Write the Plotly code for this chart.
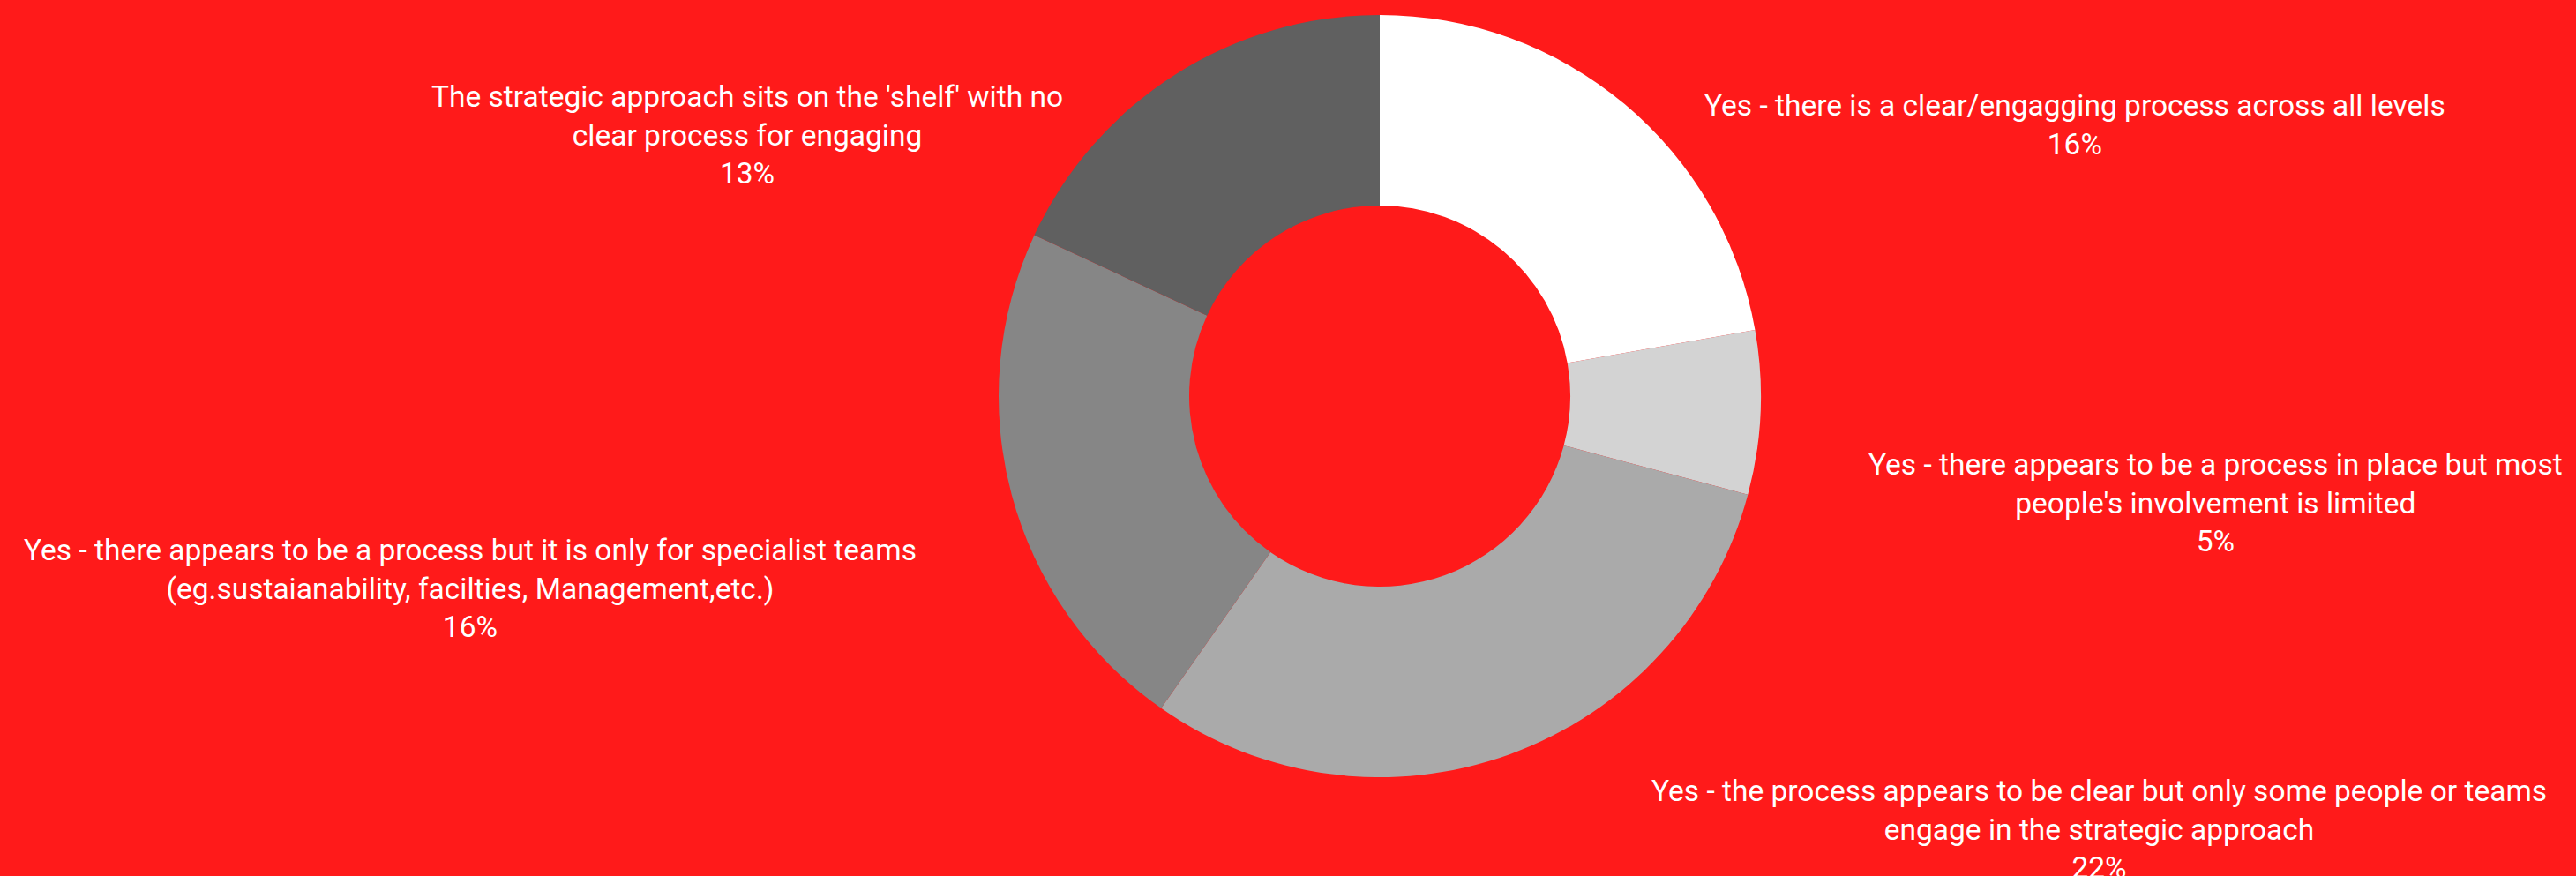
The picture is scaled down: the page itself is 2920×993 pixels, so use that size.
import plotly.graph_objects as go

labels = [
    "Yes - there is a clear/engagging process across all levels",
    "Yes - there appears to be a process in place but most<br>people's involvement is limited",
    "Yes - the process appears to be clear but only some people or teams<br>engage in the strategic approach",
    "Yes - there appears to be a process but it is only for specialist teams<br>(eg.sustaianability, facilties, Management,etc.)",
    "The strategic approach sits on the 'shelf' with no<br>clear process for engaging",
]
values = [16, 5, 22, 16, 13]
pct_text = ["16%", "5%", "22%", "16%", "13%"]
colors = ["#FFFFFF", "#D3D3D3", "#AAAAAA", "#868686", "#606060"]

# label anchor positions (paper fractions)
label_x = [0.8055, 0.860, 0.815, 0.1825, 0.290]
label_y = [0.858, 0.426, 0.053, 0.328, 0.846]

W, H = 2920, 993
fig = go.Figure()
fig.add_trace(go.Pie(
    labels=labels,
    values=values,
    hole=0.5,
    sort=False,
    direction="clockwise",
    rotation=0,
    marker=dict(colors=colors, line=dict(width=0)),
    textinfo="none",
    showlegend=False,
    domain=dict(x=[1132 / W, 1996 / W], y=[112 / H, 976 / H]),
))

font = dict(family="Roboto, sans-serif", size=33.5, color="#FFFFFF")
for lab, pct, x, y in zip(labels, pct_text, label_x, label_y):
    fig.add_annotation(
        text=f"{lab}<br>{pct}",
        x=x, y=y, xref="paper", yref="paper",
        xanchor="center", yanchor="middle",
        showarrow=False, align="center", font=font,
    )

fig.update_layout(
    width=W, height=H,
    margin=dict(l=0, r=0, t=0, b=0),
    paper_bgcolor="#FF1A1A",
    plot_bgcolor="#FF1A1A",
)
fig.write_html("out.html")
